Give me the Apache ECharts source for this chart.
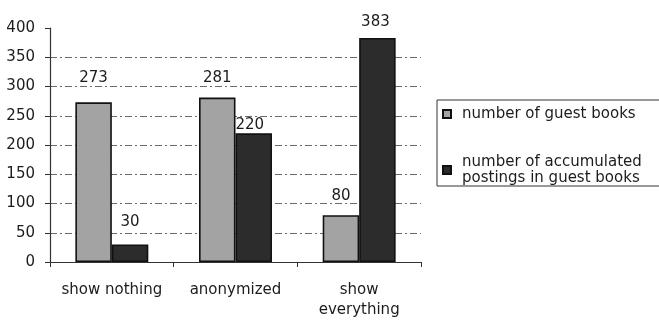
<!DOCTYPE html>
<html><head><meta charset="utf-8">
<script src="https://cdn.jsdelivr.net/npm/echarts@6/dist/echarts.min.js"></script>
<style>html,body{margin:0;padding:0;background:#fff}#c{width:659px;height:320px}</style>
</head><body><div id="c"></div>
<script>
const categories = ['show nothing', 'anonymized', 'show\neverything'];
const guestBooks = [273, 281, 80];
const postings = [30, 220, 383];
const seriesNames = ['number of guest books', 'number of accumulated\npostings in guest books'];

const chart = echarts.init(document.getElementById('c'));
const font = 'DejaVu Sans, sans-serif';
const txt = '#1c1c1c';
// label placement (style only)
const dist1 = [17, 12, 12];
const dist2 = [15, 1, 8];
const off2 = [[0, 0], [-4, 0], [-2, 0]];

chart.setOption({
  animation: false,
  textStyle: {fontFamily: font},
  grid: {left: 50, right: 238, top: 28, bottom: 55},
  legend: {
    orient: 'vertical', left: 437, top: 100,
    padding: [6, 30, 0, 5],
    borderColor: '#333', borderWidth: 1,
    itemWidth: 8, itemHeight: 8, itemGap: 32,
    icon: 'rect',
    textStyle: {fontSize: 15, color: txt, fontFamily: font, lineHeight: 16, padding: [0, 0, 0, 6]},
    data: seriesNames
  },
  xAxis: {
    type: 'category', data: categories,
    axisLine: {lineStyle: {color: '#333', width: 1.2}},
    axisTick: {show: true, length: 5, lineStyle: {color: '#333'}},
    axisLabel: {interval: 0, hideOverlap: false, fontSize: 15, color: txt, margin: 18, lineHeight: 20, fontFamily: font}
  },
  yAxis: {
    type: 'value', min: 0, max: 400, interval: 50,
    axisLine: {show: true, lineStyle: {color: '#333', width: 1.2}},
    axisTick: {show: true, length: 5, lineStyle: {color: '#333'}},
    axisLabel: {fontSize: 15, color: txt, margin: 15, fontFamily: font},
    splitLine: {show: true, showMinLine: false, showMaxLine: false,
      lineStyle: {color: '#6a6a6a', type: [7, 3, 2, 3], width: 1}}
  },
  series: [
    {
      name: seriesNames[0], type: 'bar',
      data: guestBooks.map((v, i) => ({value: v, label: {distance: dist1[i]}})),
      barGap: '0%', barCategoryGap: '41%',
      itemStyle: {color: '#a3a3a3', borderColor: '#111', borderWidth: 1.6},
      label: {show: true, position: 'top', fontSize: 15, color: txt, fontFamily: font}
    },
    {
      name: seriesNames[1], type: 'bar',
      data: postings.map((v, i) => ({value: v, label: {distance: dist2[i], offset: off2[i]}})),
      itemStyle: {color: '#2c2c2c', borderColor: '#111', borderWidth: 1.6},
      label: {show: true, position: 'top', fontSize: 15, color: txt, fontFamily: font}
    }
  ]
});
</script></body></html>
